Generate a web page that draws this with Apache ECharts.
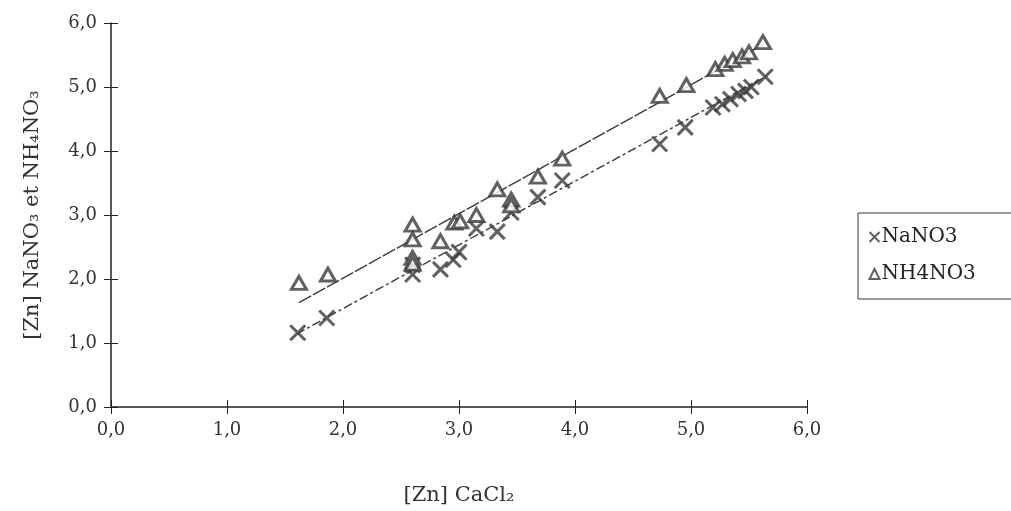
<!DOCTYPE html>
<html>
<head>
<meta charset="utf-8">
<script src="https://cdn.jsdelivr.net/npm/echarts@6/dist/echarts.min.js"></script>
<style>
html,body{margin:0;padding:0;background:#fff;}
#chart{width:1011px;height:511px;}
</style>
</head>
<body>
<div id="chart"></div>
<script>
// ---- data ----
var seriesNames = ['NaNO3', 'NH4NO3'];
var naNO3 = [
  [1.61,1.16],[1.86,1.39],[2.60,2.22],[2.60,2.07],[2.84,2.15],[2.95,2.30],[3.00,2.42],
  [3.15,2.79],[3.33,2.74],[3.45,3.04],[3.68,3.28],[3.89,3.54],[4.73,4.11],[4.95,4.37],
  [5.19,4.68],[5.27,4.73],[5.34,4.81],[5.41,4.89],[5.47,4.94],[5.52,5.00],[5.64,5.16]
];
var nh4NO3 = [
  [1.62,1.94],[1.87,2.07],[2.60,2.85],[2.60,2.62],[2.60,2.33],[2.60,2.24],[2.84,2.59],
  [2.96,2.88],[3.01,2.90],[3.15,3.00],[3.33,3.40],[3.45,3.24],[3.45,3.15],[3.68,3.60],
  [3.89,3.88],[4.73,4.86],[4.96,5.03],[5.21,5.28],[5.29,5.36],[5.36,5.42],[5.44,5.48],
  [5.50,5.54],[5.62,5.70]
];
var naFit = [[1.60,1.14],[5.68,5.20]];
var nh4Fit = [[1.62,1.63],[5.62,5.66]];
var xTicks = [0,1,2,3,4,5,6];
var yTicks = [0,1,2,3,4,5,6];
var xTitle = '[Zn] CaCl\u2082';
var yTitle = '[Zn] NaNO\u2083 et NH\u2084NO\u2083';

var ink = '#3a3a3a';
var font = 'DejaVu Serif';
var crossPath = 'path://M0,0 L10,10 M10,0 L0,10';
function fmt(v){ return v.toFixed(1).replace('.', ','); }

var chart = echarts.init(document.getElementById('chart'), null, {renderer:'canvas'});
var baseX = {type:'value', min:xTicks[0], max:xTicks[xTicks.length-1], interval:1, splitLine:{show:false}};
var baseY = {type:'value', min:yTicks[0], max:yTicks[yTicks.length-1], interval:1, splitLine:{show:false}};
chart.setOption({
  backgroundColor:'#fff',
  animation:false,
  grid:{left:111, right:204, top:23, bottom:104},
  legend:{
    orient:'vertical', left:858, top:213,
    padding:[14,40,15,9], itemGap:17,
    borderColor:ink, borderWidth:1,
    itemWidth:10, itemHeight:10,
    textStyle:{fontFamily:font, fontSize:20, color:'#222', padding:[0,0,0,-3]},
    data:[
      {name:seriesNames[0], icon:crossPath, itemStyle:{color:'none', borderColor:ink, borderWidth:2}},
      {name:seriesNames[1], icon:'triangle', itemStyle:{color:'#fff', borderColor:ink, borderWidth:2}}
    ]
  },
  xAxis:[
    Object.assign({}, baseX, {
      name:xTitle, nameLocation:'middle', nameGap:78,
      nameTextStyle:{fontFamily:font, fontSize:21, color:'#333'},
      axisLine:{show:true, lineStyle:{color:'#222', width:1.5}},
      axisTick:{show:true, length:7, lineStyle:{color:'#222'}},
      axisLabel:{fontFamily:font, fontSize:18, color:'#333', margin:14, formatter:fmt}
    }),
    Object.assign({}, baseX, {
      position:'bottom', axisLine:{show:false},
      axisTick:{show:true, inside:true, length:7, lineStyle:{color:'#222'}},
      axisLabel:{show:false}
    })
  ],
  yAxis:[
    Object.assign({}, baseY, {
      name:yTitle, nameLocation:'middle', nameGap:68, nameRotate:90,
      nameTextStyle:{fontFamily:font, fontSize:21, color:'#333'},
      axisLine:{show:true, lineStyle:{color:'#222', width:1.5}},
      axisTick:{show:true, length:7, lineStyle:{color:'#222'}},
      axisLabel:{fontFamily:font, fontSize:18, color:'#333', margin:14, formatter:fmt}
    }),
    Object.assign({}, baseY, {
      position:'left', axisLine:{show:false},
      axisTick:{show:true, inside:true, length:7, lineStyle:{color:'#222'}},
      axisLabel:{show:false}
    })
  ],
  series:[
    {name:'naFit', type:'line', data:naFit, symbol:'none', silent:true, z:1,
     lineStyle:{color:ink, width:1.4, type:[9,3,3,3]}},
    {name:'nh4Fit', type:'line', data:nh4Fit, symbol:'none', silent:true, z:1,
     lineStyle:{color:ink, width:1.4, type:[14,2]}},
    {name:seriesNames[0], type:'scatter', data:naNO3, symbol:crossPath, symbolSize:15, z:3,
     itemStyle:{color:'none', borderColor:ink, borderWidth:3}},
    {name:seriesNames[1], type:'scatter', data:nh4NO3, symbol:'triangle', symbolSize:[15,13], z:3,
     itemStyle:{color:'#fff', borderColor:ink, borderWidth:3}}
  ]
});
</script>
</body>
</html>
